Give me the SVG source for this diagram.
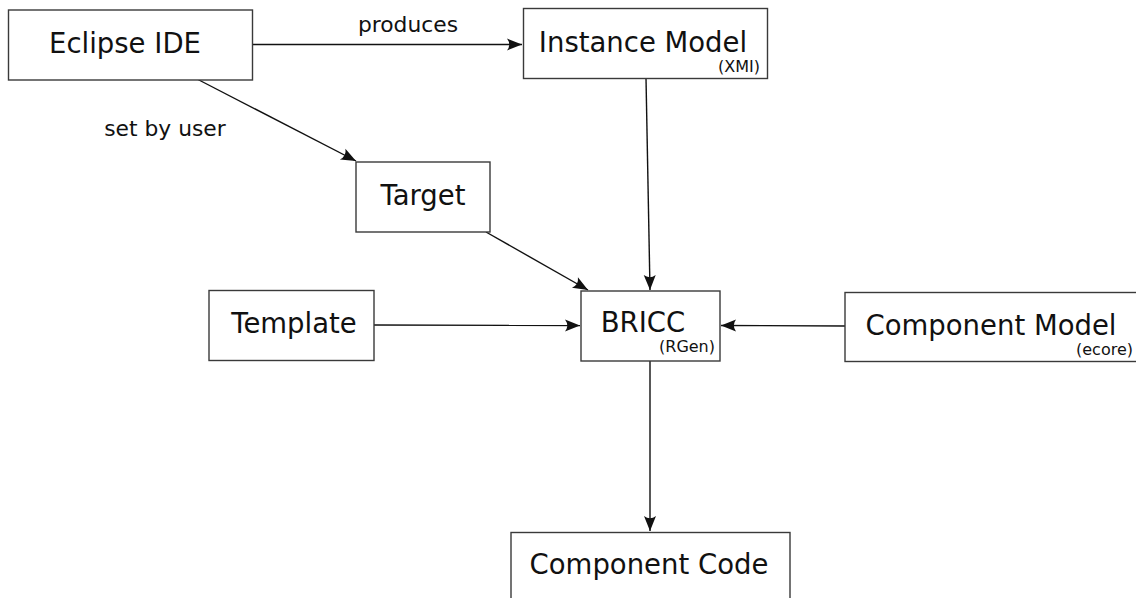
<svg xmlns="http://www.w3.org/2000/svg" width="1136" height="598" viewBox="0 0 1136 598">
<style>
.box{fill:#fff;stroke:#3a3a3a;stroke-width:1.4}
.t{font-family:"DejaVu Sans",sans-serif;font-size:27.5px;fill:#111;text-anchor:middle}
.s{font-family:"DejaVu Sans",sans-serif;font-size:16px;fill:#111;text-anchor:end}
.l{font-family:"DejaVu Sans",sans-serif;font-size:21.8px;fill:#111;text-anchor:middle}
.c{fill:none;stroke:#111;stroke-width:1.4}
</style>
<defs>
<marker id="ah" markerUnits="userSpaceOnUse" markerWidth="20" markerHeight="16" viewBox="-16 -8 18 16" refX="0" refY="0" orient="auto">
<path d="M0,0 L-15,-6 Q-10.5,0 -15,6 Z" fill="#111"/>
</marker>
</defs>
<g id="connectors">
<line class="c" x1="253" y1="44.5" x2="522" y2="44.5" marker-end="url(#ah)"/>
<line class="c" x1="198" y1="79.5" x2="356" y2="161" marker-end="url(#ah)"/>
<line class="c" x1="646" y1="78" x2="650" y2="290" marker-end="url(#ah)"/>
<line class="c" x1="486" y1="232" x2="588" y2="290" marker-end="url(#ah)"/>
<line class="c" x1="374" y1="325" x2="580" y2="325.5" marker-end="url(#ah)"/>
<line class="c" x1="845" y1="326" x2="721" y2="325.5" marker-end="url(#ah)"/>
<line class="c" x1="650" y1="361" x2="650" y2="531" marker-end="url(#ah)"/>
</g>
<g id="labels">
<text class="l" x="408" y="32">produces</text>
<text class="l" x="165" y="136">set by user</text>
</g>
<g id="eclipse">
<rect class="box" x="8.5" y="10" width="244" height="70"/>
<text class="t" x="125" y="53">Eclipse IDE</text>
</g>
<g id="instance">
<rect class="box" x="523.5" y="8.5" width="244" height="70"/>
<text class="t" x="643" y="52">Instance Model</text>
<text class="s" x="760" y="72">(XMI)</text>
</g>
<g id="target">
<rect class="box" x="356" y="162" width="134" height="70"/>
<text class="t" x="423" y="205">Target</text>
</g>
<g id="template">
<rect class="box" x="209" y="290.5" width="165" height="70"/>
<text class="t" x="294" y="333">Template</text>
</g>
<g id="bricc">
<rect class="box" x="581" y="291" width="139" height="70"/>
<text class="t" x="643" y="332">BRICC</text>
<text class="s" x="715" y="352">(RGen)</text>
</g>
<g id="componentmodel">
<rect class="box" x="845" y="292.5" width="300" height="69"/>
<text class="t" x="991" y="335">Component Model</text>
<text class="s" x="1133" y="355">(ecore)</text>
</g>
<g id="componentcode">
<rect class="box" x="511" y="532.5" width="279" height="80"/>
<text class="t" x="649" y="574">Component Code</text>
</g>
</svg>
